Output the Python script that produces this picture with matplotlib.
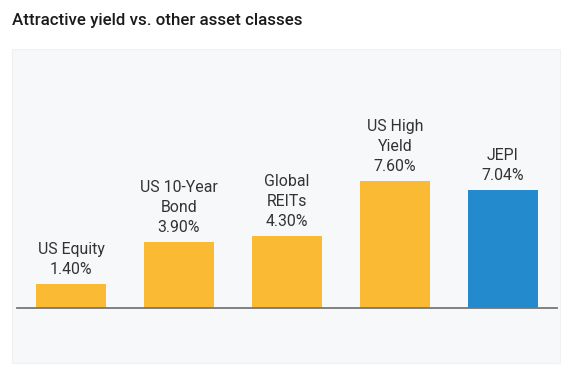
import matplotlib.pyplot as plt
from matplotlib.patches import Rectangle

# data
#
categories = ['US Equity', 'US 10-Year\nBond', 'Global\nREITs', 'US High\nYield', 'JEPI']
yields = [1.40, 3.90, 4.30, 7.60, 7.04]
colors = ['#FBBA33', '#FBBA33', '#FBBA33', '#FBBA33', '#238BCD']

plt.rcParams['font.family'] = ['Roboto', 'DejaVu Sans']

W, H = 580, 376
fig = plt.figure(figsize=(W / 100, H / 100), dpi=100)
fig.patch.set_facecolor('white')

# light panel behind the chart
#
fig.patches.append(Rectangle(
  (12 / W, 1 - 363 / H), 548 / W, 314 / H,
  transform=fig.transFigure, facecolor='#F7F8FA', edgecolor='#F0F1F3',
  linewidth=0.8, zorder=-1
))

fig.text(12 / W, 1 - 20 / H, 'Attractive yield vs. other asset classes',
         fontsize=12.2, fontweight='medium', color='#1A1A1A', va='center', ha='left')

# plot
#
ax = fig.add_axes([17 / W, 1 - 307.5 / H, 540 / W, 247.5 / H])
ax.set_zorder(1)
ax.set_facecolor('none')
x = range(len(categories))
ax.bar(x, yields, width=0.648, color=colors, zorder=2)
for i, (c, v) in enumerate(zip(categories, yields)):
  ax.annotate(f'{c}\n{v:.2f}%', (i, v), xytext=(0, 5), textcoords='offset points',
              ha='center', va='bottom', fontsize=11.4, color='#333333',
              linespacing=1.42)

ax.set_xlim(-0.5, 4.5)
ax.set_ylim(0, 247.5 / 16.7)
for s in ['top', 'right', 'left']:
  ax.spines[s].set_visible(False)
ax.spines['bottom'].set_color('#777777')
ax.spines['bottom'].set_linewidth(1.3)
ax.spines['bottom'].set_zorder(3)
ax.set_xticks([])
ax.set_yticks([])

# output
#
plt.savefig('out.png', dpi=100)
